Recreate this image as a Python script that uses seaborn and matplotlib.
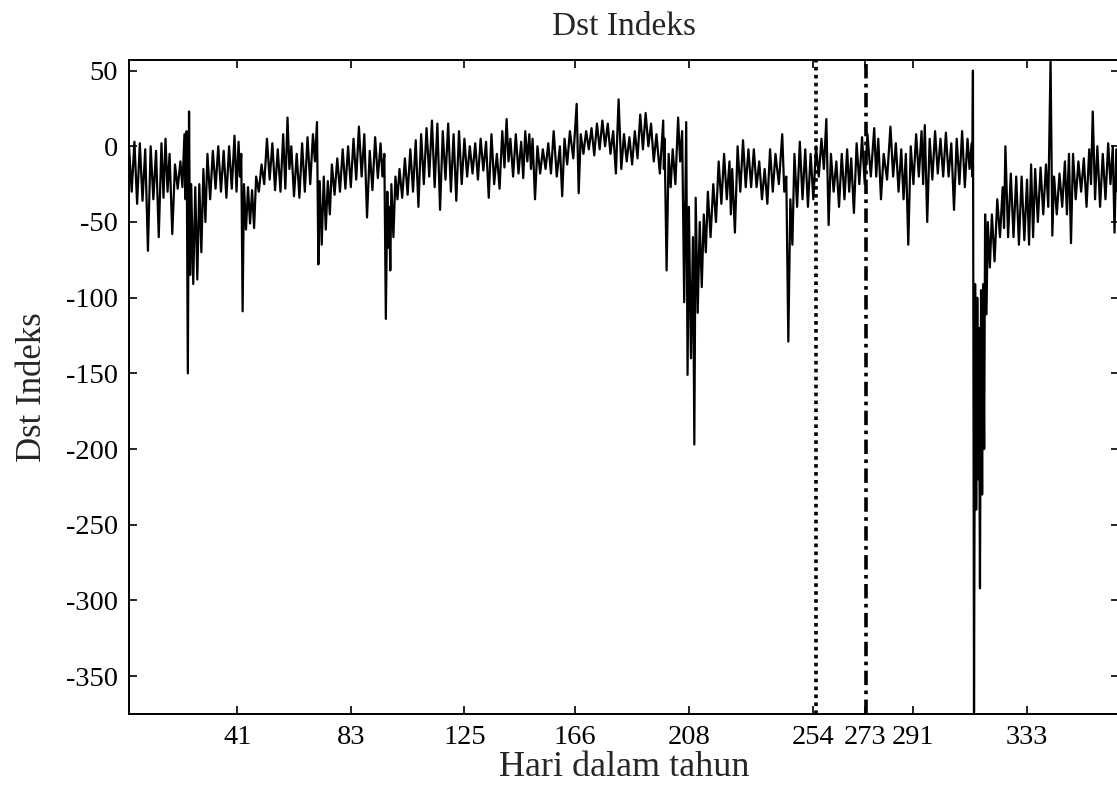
import pandas as pd
import numpy as np
import matplotlib
matplotlib.use("Agg")
import matplotlib.pyplot as plt
import seaborn as sns

# Dst index: start day of each ~2 day bin, upper and lower value in that bin (nT)
bin_day = [1, 3, 5, 7, 9, 11, 13, 14.5, 16, 18, 20, 21.5, 22.3, 23.2, 24, 25.5, 27, 28.5, 30, 32,
           34, 36, 38, 40, 41.5, 42.5, 43.5, 45, 46.5, 48, 50, 52, 54, 56, 58, 59.6, 61, 63, 65, 67,
           69, 70.5, 71.5, 73, 74.5, 76, 78, 80, 82, 84, 86, 88, 90, 92, 94, 95.4, 96.5, 97.2, 98, 99.5,
           101, 103, 105, 107, 109, 111, 113, 115, 117, 119, 121, 123, 125, 127, 129, 131, 133, 135, 137, 139,
           140.6, 142, 144, 146, 147.5, 149, 150.2, 152, 154, 156, 158, 160.3, 162, 164, 166.5, 168, 170, 172, 174, 176,
           178, 180, 182, 184, 186, 188, 190, 192, 194, 196, 198.5, 199, 200.5, 202, 204, 205.5, 207, 208, 209.5, 210.5,
           212, 213.5, 215, 217, 219, 221, 223, 224, 226, 228, 230, 232, 234, 236, 238, 240, 242.5, 244, 245.5, 247,
           249, 251, 253, 255, 257, 258.8, 260.5, 262.5, 264.5, 266.5, 268, 270, 272, 274, 276.5, 278, 280, 282.5, 284.5, 286.5,
           288.2, 290, 292, 294, 295.2, 297, 299, 301, 303, 305, 307, 309, 311, 312.5, 313.0, 313.8, 314.6, 315.2, 316, 316.8,
           317.5, 318.5, 320, 322, 324, 325, 327, 329, 331, 333, 334.5, 336, 338, 340, 341.7, 343, 345, 347, 348.5, 350,
           352, 354, 356, 357.3, 359, 361, 363, 364.7, 366]
dst_high = [0, 3, 2, -2, 0, -3, 2, 5, -5, -12, -10, 8, 10, 23, -25, -27, -25, -15, -5, -3,
            0, -3, 0, 7, 3, -5, -25, -27, -29, -20, -12, 5, 2, -2, 8, 19, 0, -5, 2, 6,
            8, 16, -23, -20, -23, -12, -8, -2, 0, 5, 13, 8, -3, 6, 2, -5, -30, -40, -25, -20,
            -15, -8, -2, 4, 8, 12, 17, 15, 10, 15, 8, 10, 5, 0, 2, 5, 3, 8, -5, 10,
            18, 5, 8, 3, 10, 8, 5, 0, -2, 2, 10, 0, 5, 10, 28, 8, 10, 12, 15, 17,
            15, 10, 31, 8, 6, 10, 21, 22, 15, 8, 17, 5, -5, -2, 19, 10, 16, -40, -60, -34,
            -50, -45, -30, -25, -10, -5, -10, -15, 0, 4, -2, -2, -10, -15, -2, -5, 8, -20, -35, -5,
            3, -2, -5, 0, 5, 18, -5, -10, -5, -2, -8, 2, 6, 8, 12, 5, -5, 13, 2, -2,
            -5, 0, 8, 10, 14, 5, 10, 5, 9, 2, 5, 10, 5, 2, 50, -91, -100, -120, -95, -91,
            -45, -50, -45, -35, -27, 0, -18, -20, -20, -22, -12, -15, -14, -12, 57, -20, -18, -10, -5, -5,
            -10, -8, -2, 23, 0, -5, 2, 0, -2]
dst_low = [-30, -38, -36, -69, -35, -60, -34, -30, -58, -28, -27, -35, -150, -85, -91, -88, -70, -50, -35, -28,
           -30, -34, -28, -30, -20, -109, -55, -51, -54, -30, -25, -22, -29, -30, -28, -15, -33, -34, -30, -25,
           -10, -78, -65, -55, -45, -32, -30, -28, -27, -22, -20, -47, -29, -21, -20, -114, -67, -82, -60, -35,
           -34, -32, -30, -40, -25, -20, -27, -42, -22, -30, -36, -25, -20, -18, -22, -16, -34, -25, -28, -14,
           -10, -20, -18, -21, -10, -15, -35, -18, -15, -18, -20, -33, -12, -8, -31, -5, -2, -6, -2, 0,
           -5, -18, -15, -10, -12, -8, -2, 0, -10, -18, -15, -82, -27, -25, -10, -103, -151, -140, -197, -110,
           -93, -70, -60, -50, -38, -35, -45, -57, -30, -27, -27, -27, -35, -38, -30, -25, -30, -129, -65, -40,
           -35, -40, -35, -20, -15, -52, -30, -40, -35, -30, -44, -25, -25, -20, -20, -35, -22, -20, -30, -35,
           -65, -25, -20, -25, -50, -22, -18, -20, -20, -42, -25, -27, -15, -20, -374, -240, -220, -292, -230, -200,
           -111, -80, -76, -60, -54, -60, -60, -65, -62, -65, -60, -50, -45, -40, -59, -45, -40, -45, -64, -35,
           -30, -40, -25, -35, -40, -35, -25, -57, -30]

tick_days = [41, 83, 125, 166, 208, 254, 273, 291, 333]
y_ticks = [50, 0, -50, -100, -150, -200, -250, -300, -350]
marker_days = [254.8, 273.5]

# zigzag between the upper and lower value of every bin
t, v = [], []
for i, d in enumerate(bin_day):
    nxt = bin_day[i + 1] if i + 1 < len(bin_day) else d + 1
    t += [d, (d + nxt) / 2]
    v += [dst_high[i], dst_low[i]]
df = pd.DataFrame({"Hari": t, "Dst": v})

sns.set_style("ticks")
plt.rcParams["font.family"] = ["Liberation Serif", "DejaVu Serif"]

fig = plt.figure(figsize=(11.17, 7.86), dpi=100)
ax = fig.add_axes([129 / 1117, 1 - 714 / 786, 990 / 1117, 654 / 786])

sns.lineplot(data=df, x="Hari", y="Dst", estimator=None, sort=False,
             color="black", linewidth=1.6, ax=ax)

ax.axvline(marker_days[0], color="black", linestyle=(0, (1, 1.2)), linewidth=2.6)
ax.axvline(marker_days[1], color="black", linestyle=(0, (4, 1.5, 1, 1.5)), linewidth=2.6)

ax.set_xlim(1, 367)
ax.set_ylim(-375, 57)
ax.set_xticks(tick_days)
ax.set_xticklabels([str(d) for d in tick_days])
ax.set_yticks(y_ticks)
ax.set_yticklabels([str(y) for y in y_ticks])

ax.tick_params(direction="in", length=6, width=1.2, labelsize=20.5, pad=8,
               top=True, right=True, colors="black")
for s in ax.spines.values():
    s.set_visible(True)
    s.set_linewidth(1.4)
    s.set_color("black")

ax.set_title("Dst Indeks", fontsize=24, pad=18)
ax.set_xlabel("Hari dalam tahun", fontsize=26, labelpad=1)
ax.set_ylabel("Dst Indeks", fontsize=25, labelpad=12)

fig.savefig("out.png", dpi=100)
